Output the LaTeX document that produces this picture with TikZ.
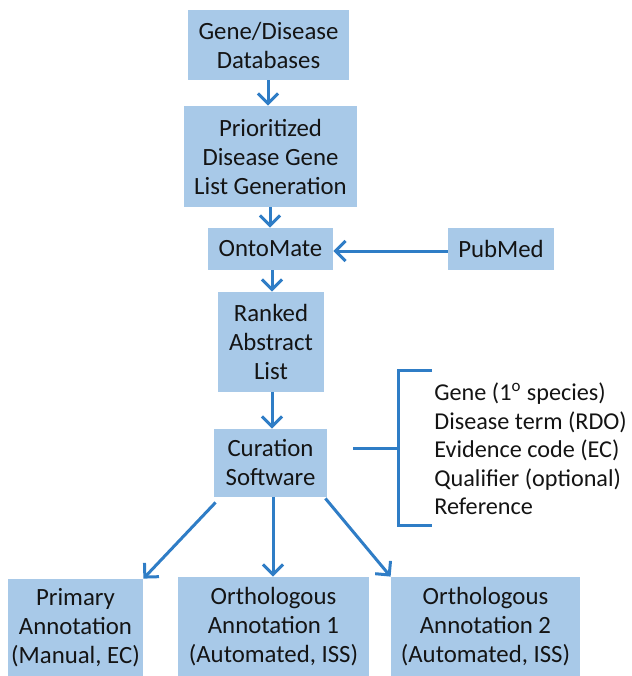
\documentclass[tikz,border=0pt]{standalone}
\usepackage{fontspec}
\setmainfont{Carlito}
\usetikzlibrary{arrows.meta}
\definecolor{boxfill}{HTML}{A8C9E8}
\definecolor{arrowblue}{HTML}{2F7DC6}
\definecolor{txt}{HTML}{141414}
\begin{document}
\begin{tikzpicture}[x=0.5pt,y=-0.5pt,
  flowbox/.style={fill=boxfill,draw=none,inner sep=0pt,align=center,text=txt,
    font=\fontsize{12.4pt}{14.5pt}\selectfont},
  flow/.style={draw=arrowblue,line width=1.5pt,-{Straight Barb[length=5pt,width=10pt,line width=1.5pt]}},
  brk/.style={draw=arrowblue,line width=1.5pt}]
\useasboundingbox (0,0) rectangle (632,676);
\node[flowbox,minimum width=161*0.5pt,minimum height=70*0.5pt] (db) at (268.5,45) {Gene/Disease\\Databases};
\node[flowbox,minimum width=173*0.5pt,minimum height=101*0.5pt] (prio) at (270.5,156.5) {Prioritized\\Disease Gene\\List Generation};
\node[flowbox,minimum width=125*0.5pt,minimum height=42*0.5pt] (onto) at (270.5,249) {OntoMate};
\node[flowbox,minimum width=106*0.5pt,minimum height=42*0.5pt] (pub) at (501,249) {PubMed};
\node[flowbox,minimum width=106*0.5pt,minimum height=100*0.5pt] (ranked) at (271,342) {Ranked\\Abstract\\List};
\node[flowbox,minimum width=113*0.5pt,minimum height=68*0.5pt] (cur) at (270.5,463) {Curation\\Software};
\node[flowbox,minimum width=135*0.5pt,minimum height=97*0.5pt] (prim) at (75.5,627.5) {Primary\\Annotation\\(Manual, EC)};
\node[flowbox,minimum width=191*0.5pt,minimum height=99*0.5pt] (orth1) at (273.5,626.5) {Orthologous\\Annotation 1\\(Automated, ISS)};
\node[flowbox,minimum width=189*0.5pt,minimum height=99*0.5pt] (orth2) at (485.5,626.5) {Orthologous\\Annotation 2\\(Automated, ISS)};
\node[anchor=west,align=left,inner sep=0pt,text=txt,font=\fontsize{12.1pt}{14.3pt}\selectfont] (list) at (434,449)
  {Gene (1\textsuperscript{o} species)\\Disease term (RDO)\\Evidence code (EC)\\Qualifier (optional)\\Reference};
% bracket
\coordinate (btop) at (432,370);
\coordinate (bbot) at (432,525);
\coordinate (tick) at (353,448);
\draw[brk] (btop) -- (398,370) -- (398,525) -- (bbot);
\draw[brk] (tick) -- (398,448);
% arrows
\draw[flow] (db.south -| 268,0) -- (prio.north -| 268,0);
\draw[flow] (prio.south -| 270,0) -- (onto.north -| 270,0);
\draw[flow] (pub.west |- 0,251) -- (onto.east |- 0,251);
\draw[flow] (onto.south -| 272,0) -- (ranked.north -| 272,0);
\draw[flow] (ranked.south -| 272,0) -- (cur.north -| 272,0);
\draw[flow] ([shift={(2,5)}]cur.south west) -- (prim.north east);
\draw[flow] (cur.south -| 273,0) -- (orth1.north -| 273,0);
\draw[flow] ([shift={(-2,1)}]cur.south east) -- (orth2.north west);
\end{tikzpicture}
\end{document}
